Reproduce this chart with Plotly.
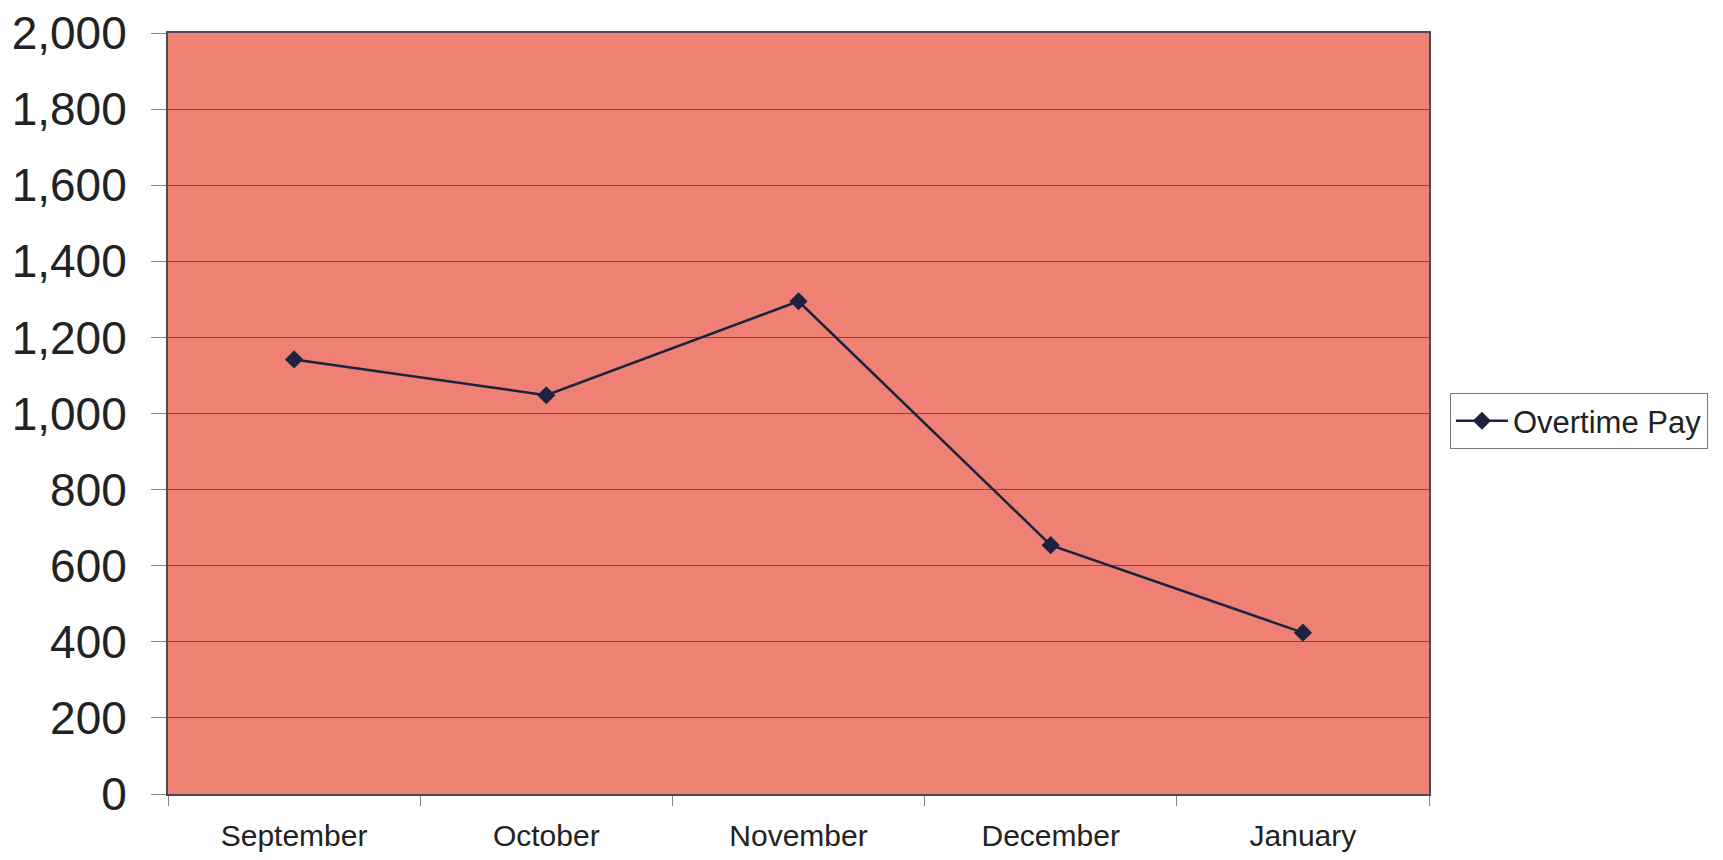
import plotly.graph_objects as go

months = ["September", "October", "November", "December", "January"]
overtime_pay = [1142, 1048, 1295, 654, 424]
y_ticks = [0, 200, 400, 600, 800, 1000, 1200, 1400, 1600, 1800, 2000]

FONT = "Liberation Sans, Arial, sans-serif"
INK = "#1c2240"
GRID = "#5b5560"

fig = go.Figure()
fig.add_trace(go.Scatter(
    x=months,
    y=overtime_pay,
    name="Overtime Pay",
    mode="lines+markers",
    line=dict(color=INK, width=2.5),
    marker=dict(symbol="diamond", size=14, color=INK),
))

# the page adds an 8px body margin, so margins are trimmed to compensate
fig.update_layout(
    width=1723,
    height=860,
    margin=dict(l=160, r=302, t=25, b=74, autoexpand=False),
    paper_bgcolor="white",
    plot_bgcolor="#ee8174",
    font=dict(family=FONT, color="#222222"),
    showlegend=True,
    legend=dict(
        x=1.0166, y=0.49, xanchor="left", yanchor="middle",
        bgcolor="white", bordercolor="#777777", borderwidth=1,
        font=dict(size=31, family=FONT, color="#222222"),
        itemwidth=52,
    ),
)

fig.update_xaxes(
    type="category",
    categoryorder="array",
    categoryarray=months,
    range=[-0.5, len(months) - 0.5],
    tickfont=dict(size=30, family=FONT),
    automargin=False,
    showline=True, linecolor="#4a4a55", linewidth=2, mirror=True,
    ticks="outside", tickson="boundaries", ticklen=10, tickcolor="#888888",
    ticklabelstandoff=14,
    showgrid=False,
)

fig.update_yaxes(
    range=[0, 2000],
    tickvals=y_ticks,
    tickformat=",d",
    tickfont=dict(size=46, family=FONT),
    automargin=False,
    ticklabeloverflow="allow",
    showline=True, linecolor="#4a4a55", linewidth=2, mirror=True,
    ticks="outside", ticklen=15, tickcolor="#888888",
    ticklabelstandoff=15,
    showgrid=True, gridcolor=GRID, gridwidth=1,
    zeroline=False,
)

fig.write_html("out.html")
